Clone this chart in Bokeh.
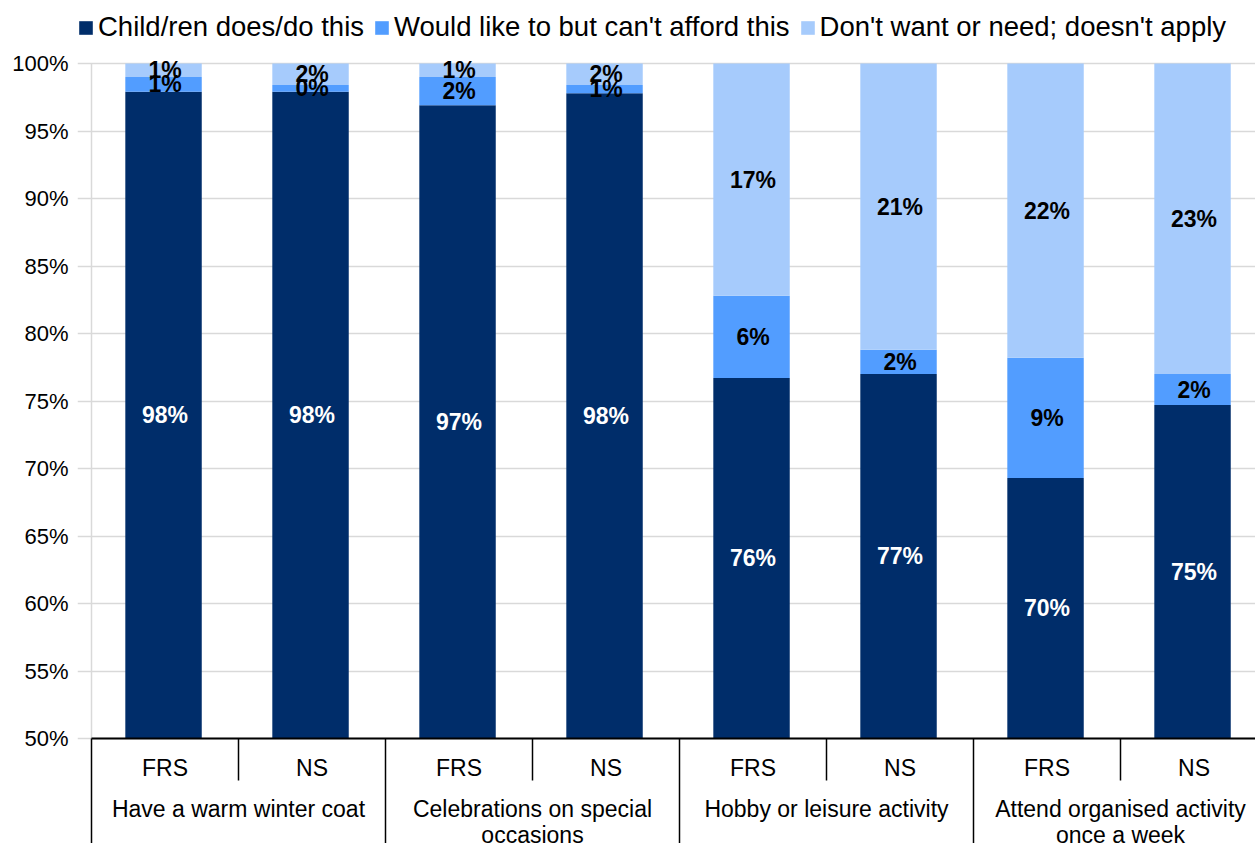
from bokeh.plotting import figure
from bokeh.models import Range1d, FixedTicker, PrintfTickFormatter, ColumnDataSource, Legend, LegendItem
from bokeh.core.properties import value
from bokeh.embed import file_html
from bokeh.resources import INLINE
import numpy as np

# ---------------- data ----------------
groups = ["Have a warm winter coat", "Celebrations on special\noccasions",
          "Hobby or leisure activity", "Attend organised activity\nonce a week"]
sources = ["FRS", "NS"]
series = ["Child/ren does/do this", "Would like to but can't afford this",
          "Don't want or need; doesn't apply"]
does = [97.9, 97.9, 96.9, 97.8, 76.7, 77.0, 69.3, 74.7]
cant_afford = [1.1, 0.5, 2.1, 0.6, 6.1, 1.8, 8.9, 2.3]
dont_want = [1.0, 1.6, 1.0, 1.6, 17.2, 21.2, 21.8, 23.0]
does_labels = ["98%", "98%", "97%", "98%", "76%", "77%", "70%", "75%"]
afford_labels = ["1%", "0%", "2%", "1%", "6%", "2%", "9%", "2%"]
dont_labels = ["1%", "2%", "1%", "2%", "17%", "21%", "22%", "23%"]
y_ticks = list(range(50, 101, 5))
y_min = 50
colors = ["#002D6A", "#529DFF", "#A6CBFC"]

# ---------------- layout constants ----------------
W, H = 1255, 843
FRAME_LEFT = 77                # px, frame starts here (legend starts here too)
AXIS_X = 91                    # px, value axis position
SLOT = 147.0
PX = 13.5                      # px per percentage point
TOP_GAP = 63                   # px between frame top and 100%
BOTTOM_GAP = H - 738           # px between 50% and frame bottom
FONT = "Liberation Sans"

x_start = -(AXIS_X - FRAME_LEFT) / SLOT
x_end = (W - AXIS_X) / SLOT
y_top = 100 + TOP_GAP / PX
y_bot = y_min - BOTTOM_GAP / PX

p = figure(width=W, height=H, x_range=Range1d(x_start, x_end), y_range=Range1d(y_bot, y_top),
           output_backend="svg", toolbar_location=None, x_axis_location=None,
           min_border_left=FRAME_LEFT, min_border_right=0, min_border_top=0, min_border_bottom=0)
p.outline_line_color = None
p.xgrid.visible = False
p.background_fill_color = "white"

ticker = FixedTicker(ticks=y_ticks, minor_ticks=[])
p.yaxis.ticker = ticker
p.yaxis.formatter = PrintfTickFormatter(format="%d%%")
p.yaxis.axis_line_color = None
p.yaxis.major_tick_line_color = None
p.yaxis.major_tick_out = 0
p.yaxis.major_tick_in = 0
p.yaxis.minor_tick_line_color = None
p.yaxis.major_label_text_font = FONT
p.yaxis.major_label_text_font_size = "22px"
p.yaxis.major_label_text_color = "black"
p.yaxis.major_label_standoff = 9
p.ygrid.ticker = ticker
p.ygrid.grid_line_color = "#D9D9D9"
p.ygrid.grid_line_width = 1.5

# gray value axis line
p.segment(x0=[0], y0=[y_min], x1=[0], y1=[max(y_ticks)], line_color="#D9D9D9", line_width=1.5)

# ---------------- bars ----------------
n = len(does)
xs = np.arange(n) + 0.5
d = np.array(does)
a = np.array(cant_afford)
w = np.array(dont_want)
src = ColumnDataSource(dict(
    x=xs - 0.01,
    b0=np.full(n, y_min), t0=d,
    b1=d, t1=d + a,
    b2=d + a, t2=d + a + w,
))
bar_w = 0.52
r0 = p.vbar(x="x", bottom="b0", top="t0", width=bar_w, source=src, fill_color=colors[0], line_color=None)
r1 = p.vbar(x="x", bottom="b1", top="t1", width=bar_w, source=src, fill_color=colors[1], line_color=None)
r2 = p.vbar(x="x", bottom="b2", top="t2", width=bar_w, source=src, fill_color=colors[2], line_color=None)

lab_kw = dict(text_font=value(FONT), text_font_style="bold", text_font_size="23px",
              text_align="center", text_baseline="middle")
p.text(x=xs, y=(y_min + d) / 2, text=does_labels, text_color="white", **lab_kw)
p.text(x=xs, y=d + a / 2, text=afford_labels, text_color="black", **lab_kw)
p.text(x=xs, y=d + a + w / 2, text=dont_labels, text_color="black", **lab_kw)

# ---------------- category table below ----------------
p.segment(x0=[0], y0=[y_min], x1=[x_end], y1=[y_min], line_color="black", line_width=2)
ng = len(groups)
gx = [2 * g for g in range(ng)]
sx = [2 * g + 1 for g in range(ng)]
p.segment(x0=gx, y0=[y_bot] * ng, x1=gx, y1=[y_min] * ng, line_color="black", line_width=1.5)
p.segment(x0=sx, y0=[y_min - 42 / PX] * ng, x1=sx, y1=[y_min] * ng, line_color="black", line_width=1.5)

sub_labels = [sources[i % 2] for i in range(n)]
p.text(x=xs, y=[y_min - 29 / PX] * n, text=sub_labels, text_font=value(FONT), text_font_size="23px",
       text_align="center", text_baseline="middle", text_color="black")
line1 = [g.split("\n")[0] for g in groups]
line2 = [g.split("\n")[1] if "\n" in g else "" for g in groups]
gcx = [2 * g + 1 for g in range(ng)]
p.text(x=gcx, y=[y_min - 70 / PX] * ng, text=line1, text_font=value(FONT), text_font_size="23px",
       text_align="center", text_baseline="middle", text_color="black")
p.text(x=gcx, y=[y_min - 96 / PX] * ng, text=line2, text_font=value(FONT), text_font_size="23px",
       text_align="center", text_baseline="middle", text_color="black")

# ---------------- legend ----------------
legend = Legend(items=[LegendItem(label=series[0], renderers=[r0]),
                       LegendItem(label=series[1], renderers=[r1]),
                       LegendItem(label=series[2], renderers=[r2])],
                orientation="horizontal", location=(0, 800),
                label_text_font=FONT, label_text_font_size="27.5px", label_text_color="black",
                glyph_width=17, glyph_height=17, label_standoff=4, spacing=9,
                padding=0, margin=0, border_line_color=None, background_fill_alpha=0)
p.add_layout(legend)

open("out.html", "w").write(file_html(p, INLINE))
